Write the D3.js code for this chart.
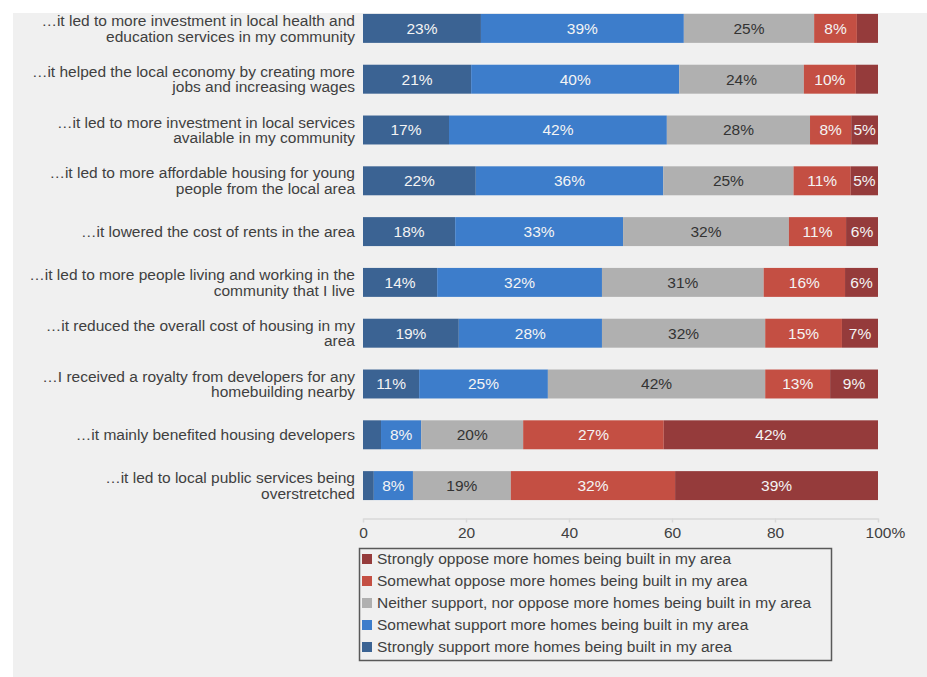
<!DOCTYPE html>
<html>
<head>
<meta charset="utf-8">
<script src="https://cdn.jsdelivr.net/npm/d3@7"></script>
<style>
  html, body { margin: 0; padding: 0; background: #ffffff; }
  svg { display: block; }
  text { font-family: "Liberation Sans", Arial, Helvetica, sans-serif; }
</style>
</head>
<body>
<div id="chart"></div>
<script>
// ---- Data ----
const categories = [
  "…it led to more investment in local health and|education services in my community",
  "…it helped the local economy by creating more|jobs and increasing wages",
  "…it led to more investment in local services|available in my community",
  "…it led to more affordable housing for young|people from the local area",
  "…it lowered the cost of rents in the area",
  "…it led to more people living and working in the|community that I live",
  "…it reduced the overall cost of housing in my|area",
  "…I received a royalty from developers for any|homebuilding nearby",
  "…it mainly benefited housing developers",
  "…it led to local public services being|overstretched"
];
const stronglySupport = [22.9, 21.0, 16.7, 21.9, 17.9, 14.4, 18.6, 10.9, 3.5, 2.1];
const somewhatSupport = [39.4, 40.4, 42.3, 36.4, 32.6, 32.0, 27.8, 25.0, 7.8, 7.6];
const neither         = [25.3, 24.2, 27.8, 25.3, 32.2, 31.4, 31.7, 42.2, 19.8, 19.0];
const somewhatOppose  = [8.3, 10.1, 8.0, 11.1, 11.1, 15.8, 14.9, 12.6, 27.3, 31.9];
const stronglyOppose  = [4.1, 4.3, 5.2, 5.3, 6.2, 6.4, 7.0, 9.3, 41.6, 39.4];

const seriesNames = [
  "Strongly support more homes being built in my area",
  "Somewhat support more homes being built in my area",
  "Neither support, nor oppose more homes being built in my area",
  "Somewhat oppose more homes being built in my area",
  "Strongly oppose more homes being built in my area"
];
const xTicks = [0, 20, 40, 60, 80, 100];

// ---- Styles ----
const colors = ["#3b6393", "#3d7dcb", "#b0b0b0", "#c44f43", "#953b3b"];
const labelColors = ["#f4f4f4", "#f4f4f4", "#333333", "#f4f4f4", "#f4f4f4"];
const textColor = "#404040";
const fontSize = 15.5;

const W = 927, H = 677;
const svg = d3.select("#chart").append("svg").attr("width", W).attr("height", H);

svg.append("rect").attr("width", W).attr("height", H).attr("fill", "#ffffff");
svg.append("rect").attr("x", 13).attr("y", 13).attr("width", W - 13).attr("height", H - 13).attr("fill", "#f0f0f0");

const seriesArrays = [stronglySupport, somewhatSupport, neither, somewhatOppose, stronglyOppose];
const keys = ["s0", "s1", "s2", "s3", "s4"];
const rows = categories.map((c, i) => {
  const r = { cat: c };
  keys.forEach((k, j) => r[k] = seriesArrays[j][i]);
  return r;
});

const x = d3.scaleLinear().domain([0, 100]).range([363, 878]);
const y = d3.scaleBand().domain(categories).range([3, 511]).paddingInner(0.43).paddingOuter(0.215);

const stack = d3.stack().keys(keys);
const stacked = stack(rows);

const g = svg.append("g");
stacked.forEach((layer, j) => {
  const lg = g.append("g").attr("fill", colors[j]);
  lg.selectAll("rect").data(layer).enter().append("rect")
    .attr("x", d => x(d[0]))
    .attr("y", d => y(d.data.cat))
    .attr("width", d => x(d[1]) - x(d[0]))
    .attr("height", y.bandwidth());
  const tg = g.append("g");
  tg.selectAll("text").data(layer.filter(d => (d[1] - d[0]) >= 4.5)).enter().append("text")
    .attr("x", d => (x(d[0]) + x(d[1])) / 2)
    .attr("y", d => y(d.data.cat) + y.bandwidth() / 2)
    .attr("dy", "0.35em")
    .attr("text-anchor", "middle")
    .attr("fill", labelColors[j])
    .attr("font-size", fontSize)
    .text(d => Math.round(d[1] - d[0]) + "%");
});

// Category labels
const catG = svg.append("g");
categories.forEach(c => {
  const lines = c.split("|");
  const cy = y(c) + y.bandwidth() / 2;
  const t = catG.append("text")
    .attr("text-anchor", "end")
    .attr("fill", textColor)
    .attr("font-size", fontSize);
  lines.forEach((ln, i) => {
    t.append("tspan")
      .attr("x", 355)
      .attr("y", cy + (i - (lines.length - 1) / 2) * 15.5)
      .attr("dy", "0.35em")
      .text(ln);
  });
});

// X axis
const axis = d3.axisBottom(x).tickValues(xTicks).tickSizeInner(4).tickSizeOuter(0).tickPadding(4)
  .tickFormat(d => d === 100 ? "100%" : String(d));
const ax = svg.append("g").attr("transform", "translate(0,518.5)").call(axis);
ax.select(".domain").attr("stroke", "#d9d9d9").attr("stroke-width", 1.5);
ax.selectAll(".tick line").attr("stroke", "#d9d9d9").attr("stroke-width", 1.5);
ax.selectAll(".tick text").attr("fill", textColor).attr("font-size", fontSize)
  .attr("font-family", "'Liberation Sans', Arial, sans-serif");
// "100%": center the number on the tick, let the % sign hang to the right
ax.selectAll(".tick text").filter(d => d === 100).each(function () {
  const el = d3.select(this);
  const tmp = ax.append("text").attr("font-size", fontSize).text("100");
  const w = tmp.node().getComputedTextLength();
  tmp.remove();
  el.attr("text-anchor", "start").attr("x", -w / 2);
});

// Legend
const lgX = 359.5, lgY = 548.5, lgW = 472, lgH = 112;
const leg = svg.append("g");
leg.append("rect").attr("x", lgX).attr("y", lgY).attr("width", lgW).attr("height", lgH)
  .attr("fill", "none").attr("stroke", "#595959").attr("stroke-width", 1.5);
const legendOrder = [4, 3, 2, 1, 0];
legendOrder.forEach((j, i) => {
  const cy = 559 + i * 22;
  leg.append("rect").attr("x", 362).attr("y", cy - 5).attr("width", 10).attr("height", 10).attr("fill", colors[j]);
  leg.append("text").attr("x", 377).attr("y", cy).attr("dy", "0.35em")
    .attr("fill", textColor).attr("font-size", fontSize).text(seriesNames[j]);
});
</script>
</body>
</html>
